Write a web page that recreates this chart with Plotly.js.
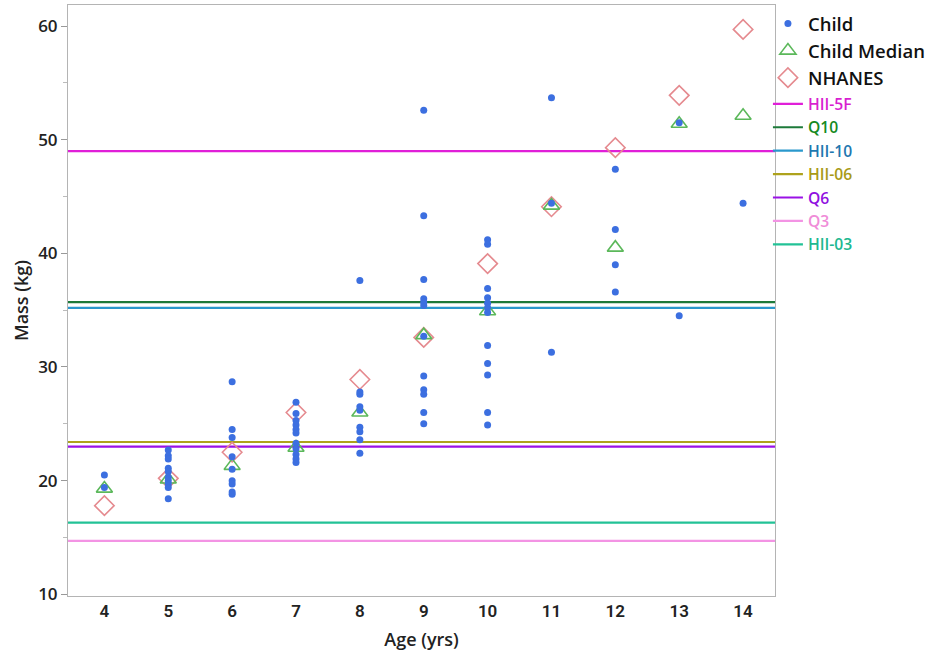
<!DOCTYPE html>
<html>
<head>
<meta charset="utf-8">
<script src="https://cdn.plot.ly/plotly-3.0.1.min.js"></script>
<style>html,body{margin:0;padding:0;background:#fff;}#chart{width:943px;height:660px;}</style>
</head>
<body>
<div id="chart"></div>
<script>
// Individual child masses by age
var childAges = [4,4,
  5,5,5,5,5,5,5,5,5,5,
  6,6,6,6,6,6,6,6,6,
  7,7,7,7,7,7,7,7,7,7,7,
  8,8,8,8,8,8,8,8,8,
  9,9,9,9,9,9,9,9,9,9,9,9,
  10,10,10,10,10,10,10,10,10,10,10,10,
  11,11,11,
  12,12,12,12,
  13,13,
  14];
var childMass = [20.5,19.4,
  22.7,22.2,21.9,21.1,20.8,20.3,20.0,19.7,19.4,18.4,
  28.7,24.5,23.8,22.1,21.0,20.0,19.7,19.0,18.8,
  26.9,25.9,25.3,24.9,24.5,24.2,23.3,22.8,22.3,21.9,21.6,
  37.6,27.8,27.6,26.5,26.2,24.7,24.3,23.6,22.4,
  52.6,43.3,37.7,36.0,35.7,35.4,32.7,29.2,28.0,27.6,26.0,25.0,
  41.2,40.8,36.9,36.1,35.6,35.2,34.8,31.9,30.3,29.3,26.0,24.9,
  53.7,44.4,31.3,
  47.4,42.1,39.0,36.6,
  51.5,34.5,
  44.4];
var ages = [4,5,6,7,8,9,10,11,12,13,14];
var medianMass = [19.3,20.1,21.3,22.9,26.0,32.8,34.9,44.2,40.5,51.4,52.1];
var nhanesMass = [17.8,20.2,22.5,26.0,28.9,32.6,39.1,44.1,49.3,53.9,59.7];
var refNames = ['HII-5F','Q10','HII-10','HII-06','Q6','Q3','HII-03'];
var refMass = [49.0,35.7,35.2,23.4,23.0,14.7,16.3];
var refColors = ['#e01fd8','#1d7a3a','#2a98cc','#aea21c','#9a12e6','#f394e4','#22c296'];
var refTextColors = ['#d81fd0','#168a1e','#1f78b0','#a89a16','#9010e0','#f08cd8','#20b890'];

var xRange = [3.43, 14.5];
var yRange = [9.85, 61.85];

var traces = [];
for (var i = 0; i < refNames.length; i++) {
  traces.push({
    type: 'scatter', mode: 'lines',
    x: [xRange[0], xRange[1]], y: [refMass[i], refMass[i]],
    line: {color: refColors[i], width: 2.2},
    name: '<span style="color:' + refTextColors[i] + '">' + refNames[i] + '</span>',
    legend: 'legend2', legendrank: 10 + i, hoverinfo: 'skip'
  });
}
traces.push({
  type: 'scatter', mode: 'markers', x: ages, y: nhanesMass, name: 'NHANES',
  marker: {symbol: 'diamond-open', size: 15, color: '#e58a8f', line: {width: 1.6, color: '#e58a8f'}},
  legendrank: 3
});
traces.push({
  type: 'scatter', mode: 'markers', x: ages, y: medianMass, name: 'Child Median',
  marker: {symbol: 'triangle-up-open', size: 14, color: '#5bb85a', line: {width: 1.6, color: '#5bb85a'}},
  legendrank: 2
});
traces.push({
  type: 'scatter', mode: 'markers', x: childAges, y: childMass, name: 'Child',
  marker: {symbol: 'circle', size: 7, color: '#3c6fe0'},
  legendrank: 1
});

var layout = {
  width: 943, height: 660,
  margin: {l: 68, r: 168, t: 5, b: 64},
  paper_bgcolor: '#fff', plot_bgcolor: '#fff',
  font: {family: 'Open Sans, Noto Sans, sans-serif', color: '#222'},
  showlegend: true,
  legend: {x: 0.99, xanchor: 'left', y: 1.0, yanchor: 'top', font: {size: 18.5, color: '#111', weight: 600},
           tracegroupgap: 0, itemwidth: 30, bgcolor: 'rgba(0,0,0,0)'},
  legend2: {x: 0.99, xanchor: 'left', y: 0.861, yanchor: 'top', font: {size: 15.7, color: '#111', weight: 600},
           tracegroupgap: 0, itemwidth: 30, bgcolor: 'rgba(0,0,0,0)'},
  xaxis: {
    range: xRange, tickvals: ages, ticktext: ages.map(String),
    showgrid: false, zeroline: false,
    showline: true, linecolor: '#b4b4b4', linewidth: 1, mirror: true,
    ticks: '', tickfont: {size: 17, color: '#222', weight: 600, family: 'Liberation Sans Narrow, Roboto, sans-serif'},
    title: {text: 'Age (yrs)', font: {size: 18, color: '#222', weight: 600}, standoff: 12}
  },
  yaxis: {
    range: yRange, tickvals: [10,20,30,40,50,60],
    showgrid: false, zeroline: false,
    showline: true, linecolor: '#b4b4b4', linewidth: 1, mirror: true,
    ticks: 'outside', ticklen: 6, tickcolor: '#999',
    minor: {dtick: 5, tick0: 15, ticks: 'outside', ticklen: 4, tickcolor: '#bbb'},
    tickfont: {size: 17, color: '#222', weight: 600},
    title: {text: 'Mass (kg)', font: {size: 18, color: '#222', weight: 600}, standoff: 4}
  }
};

Plotly.newPlot('chart', traces, layout, {displayModeBar: false, staticPlot: true});
</script>
</body>
</html>
